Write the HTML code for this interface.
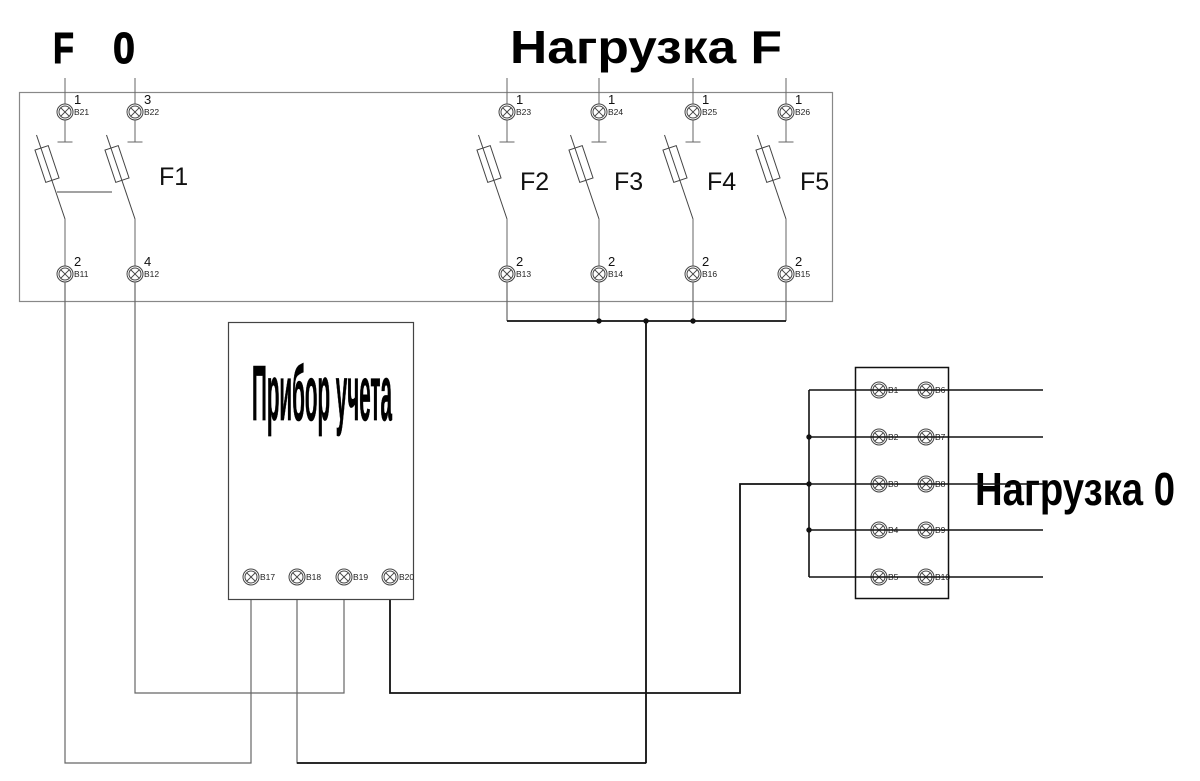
<!DOCTYPE html>
<html><head><meta charset="utf-8"><style>
html,body{margin:0;padding:0;background:#fff;}
svg{display:block;}
</style></head><body>
<svg width="1200" height="781" viewBox="0 0 1200 781" xmlns="http://www.w3.org/2000/svg" font-family="Liberation Sans, Arial, sans-serif">
<rect width="1200" height="781" fill="#fff"/>
<defs>
<g id="term">
<circle cx="0" cy="0" r="8" fill="#fff" stroke="#444" stroke-width="1"/>
<circle cx="0" cy="0" r="6" fill="none" stroke="#444" stroke-width="1"/>
<line x1="-4.2" y1="-4.2" x2="4.2" y2="4.2" stroke="#444" stroke-width="1"/>
<line x1="-4.2" y1="4.2" x2="4.2" y2="-4.2" stroke="#444" stroke-width="1"/>
</g>
<g id="fuse">
<line x1="0" y1="78" x2="0" y2="104" stroke="#666" stroke-width="1"/>
<line x1="0" y1="120" x2="0" y2="142" stroke="#666" stroke-width="1"/>
<line x1="-7.5" y1="142" x2="7.5" y2="142" stroke="#666" stroke-width="1"/>
<line x1="-28.5" y1="135" x2="0" y2="219" stroke="#444" stroke-width="1"/>
<rect x="-7" y="-17" width="14" height="34" fill="none" stroke="#444" stroke-width="1" transform="translate(-18,164) rotate(-18.5)"/>
<line x1="0" y1="219" x2="0" y2="266" stroke="#666" stroke-width="1"/>
</g>
</defs>

<!-- top titles -->
<text x="53" y="63" font-size="44" font-weight="bold" textLength="21" lengthAdjust="spacingAndGlyphs" stroke="#000" stroke-width="1">F</text>
<text x="113" y="63" font-size="44" font-weight="bold" textLength="22" lengthAdjust="spacingAndGlyphs" stroke="#000" stroke-width="1">0</text>
<text x="510" y="63" font-size="46" font-weight="bold" textLength="272" lengthAdjust="spacingAndGlyphs">Нагрузка F</text>
<text x="975" y="505" font-size="46" font-weight="bold" textLength="200" lengthAdjust="spacingAndGlyphs">Нагрузка 0</text>

<!-- main breaker box -->
<rect x="19.5" y="92.5" width="813" height="209" fill="none" stroke="#888" stroke-width="1.2"/>

<!-- columns -->
<g transform="translate(65,0)"><use href="#fuse"/></g>
<g transform="translate(135,0)"><use href="#fuse"/></g>
<g transform="translate(507,0)"><use href="#fuse"/></g>
<g transform="translate(599,0)"><use href="#fuse"/></g>
<g transform="translate(693,0)"><use href="#fuse"/></g>
<g transform="translate(786,0)"><use href="#fuse"/></g>

<!-- F1 mechanical link -->
<line x1="57" y1="192" x2="112" y2="192" stroke="#444" stroke-width="1"/>

<!-- terminals top -->
<use href="#term" x="65" y="112"/><use href="#term" x="135" y="112"/>
<use href="#term" x="507" y="112"/><use href="#term" x="599" y="112"/>
<use href="#term" x="693" y="112"/><use href="#term" x="786" y="112"/>
<!-- terminals bottom -->
<use href="#term" x="65" y="274"/><use href="#term" x="135" y="274"/>
<use href="#term" x="507" y="274"/><use href="#term" x="599" y="274"/>
<use href="#term" x="693" y="274"/><use href="#term" x="786" y="274"/>

<g font-size="13" fill="#111">
<text x="74" y="104">1</text><text x="144" y="104">3</text>
<text x="516" y="104">1</text><text x="608" y="104">1</text>
<text x="702" y="104">1</text><text x="795" y="104">1</text>
<text x="74" y="266">2</text><text x="144" y="266">4</text>
<text x="516" y="266">2</text><text x="608" y="266">2</text>
<text x="702" y="266">2</text><text x="795" y="266">2</text>
</g>
<g font-size="8.5" fill="#222">
<text x="74" y="115">B21</text><text x="144" y="115">B22</text>
<text x="516" y="115">B23</text><text x="608" y="115">B24</text>
<text x="702" y="115">B25</text><text x="795" y="115">B26</text>
<text x="74" y="277">B11</text><text x="144" y="277">B12</text>
<text x="516" y="277">B13</text><text x="608" y="277">B14</text>
<text x="702" y="277">B16</text><text x="795" y="277">B15</text>
</g>

<!-- fuse labels -->
<g font-size="25" fill="#111">
<text x="159" y="185">F1</text>
<text x="520" y="190">F2</text>
<text x="614" y="190">F3</text>
<text x="707" y="190">F4</text>
<text x="800" y="190">F5</text>
</g>

<!-- wires from bottom terminals -->
<g stroke="#666" stroke-width="1.2" fill="none">
<line x1="507" y1="282" x2="507" y2="321"/>
<line x1="599" y1="282" x2="599" y2="321"/>
<line x1="693" y1="282" x2="693" y2="321"/>
<line x1="786" y1="282" x2="786" y2="321"/>
<polyline points="65,282 65,763 251,763 251,600"/>
<polyline points="135,282 135,693 344,693 344,600"/>
<polyline points="297,600 297,763 646,763 646,321"/>
</g>
<g stroke="#111" stroke-width="1.8" fill="none">
<line x1="507" y1="321" x2="786" y2="321"/>
<polyline points="390,600 390,693 740,693 740,484 809,484"/>
<line x1="297" y1="763" x2="646" y2="763"/>
<line x1="646" y1="321" x2="646" y2="763"/>
</g>
<g fill="#111">
<circle cx="599" cy="321" r="2.7"/>
<circle cx="646" cy="321" r="2.7"/>
<circle cx="693" cy="321" r="2.7"/>
</g>

<!-- meter -->
<rect x="228.5" y="322.5" width="185" height="277" fill="#fff" stroke="#444" stroke-width="1.2"/>
<text x="252" y="420" font-size="78" font-weight="bold" textLength="140" lengthAdjust="spacingAndGlyphs" stroke="#000" stroke-width="0.8">Прибор учета</text>
<use href="#term" x="251" y="577"/><use href="#term" x="297" y="577"/>
<use href="#term" x="344" y="577"/><use href="#term" x="390" y="577"/>
<g font-size="8.5" fill="#222">
<text x="260" y="580">B17</text><text x="306" y="580">B18</text>
<text x="353" y="580">B19</text><text x="399" y="580">B20</text>
</g>

<!-- neutral block -->
<rect x="855.5" y="367.5" width="93" height="231" fill="#fff" stroke="#111" stroke-width="1.5"/>
<use href="#term" x="879" y="390"/><use href="#term" x="926" y="390"/>
<use href="#term" x="879" y="437"/><use href="#term" x="926" y="437"/>
<use href="#term" x="879" y="484"/><use href="#term" x="926" y="484"/>
<use href="#term" x="879" y="530"/><use href="#term" x="926" y="530"/>
<use href="#term" x="879" y="577"/><use href="#term" x="926" y="577"/>
<g font-size="8.5" fill="#222">
<text x="888" y="393">B1</text><text x="935" y="393">B6</text>
<text x="888" y="440">B2</text><text x="935" y="440">B7</text>
<text x="888" y="487">B3</text><text x="935" y="487">B8</text>
<text x="888" y="533">B4</text><text x="935" y="533">B9</text>
<text x="888" y="580">B5</text><text x="935" y="580">B10</text>
</g>
<g stroke="#111" stroke-width="1.6" fill="none">
<line x1="809" y1="390" x2="809" y2="577"/>
<line x1="809" y1="390" x2="1043" y2="390"/>
<line x1="809" y1="437" x2="1043" y2="437"/>
<line x1="809" y1="484" x2="1043" y2="484"/>
<line x1="809" y1="530" x2="1043" y2="530"/>
<line x1="809" y1="577" x2="1043" y2="577"/>
</g>
<g fill="#111">
<circle cx="809" cy="437" r="2.7"/>
<circle cx="809" cy="484" r="2.7"/>
<circle cx="809" cy="530" r="2.7"/>
</g>
</svg>
</body></html>
